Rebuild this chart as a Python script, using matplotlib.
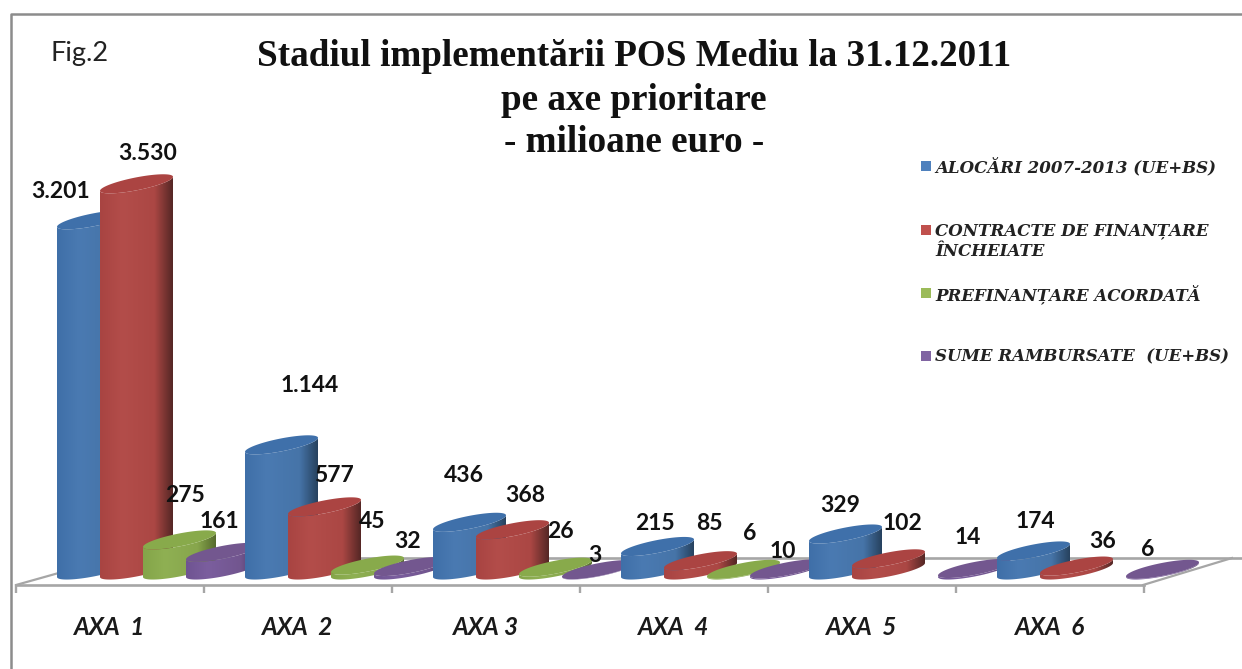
import matplotlib
matplotlib.use("Agg")
import matplotlib.pyplot as plt
from matplotlib.colors import LinearSegmentedColormap
from matplotlib.patches import Polygon, Rectangle
import numpy as np

W, H = 1242, 669

# Data
categories = ["AXA  1", "AXA  2", "AXA 3", "AXA  4", "AXA  5", "AXA  6"]
series_names = ["ALOCĂRI 2007-2013 (UE+BS)",
                "CONTRACTE DE FINANȚARE\nÎNCHEIATE",
                "PREFINANȚARE ACORDATĂ",
                "SUME RAMBURSATE  (UE+BS)"]
alocari = [3201, 1144, 436, 215, 329, 174]
contracte = [3530, 577, 368, 85, 102, 36]
prefinantare = [275, 45, 26, 6, 0, 0]
rambursate = [161, 32, 3, 10, 14, 6]
series = [alocari, contracte, prefinantare, rambursate]

# label centres in image pixels, one row per axis
label_px = [
    [(61, 191), (148, 154), (185, 496), (219, 521)],
    [(310, 385), (334, 475), (372, 522), (408, 541)],
    [(464, 475), (525, 495), (560, 532), (595, 555)],
    [(655, 524), (709, 524), (750, 533), (783, 551)],
    [(840, 506), (902, 523), None, (968, 537)],
    [(1035, 521), (1103, 541), None, (1148, 549)],
]

ramps = [["#3f6fa8", "#4a7ab2", "#4674a8", "#27425f"],
         ["#a84442", "#b34d4a", "#ab4744", "#552725"],
         ["#84a549", "#8fb053", "#87a64c", "#566b2d"],
         ["#6f5492", "#7b5e9e", "#72568f", "#46335e"]]
cap_colors = ["#3f70aa", "#ab4442", "#88aa4b", "#73578f"]
legend_colors = ["#4f81bd", "#c0504d", "#9bbb59", "#8064a2"]
gray = "#a6a6a6"

PX_X = 188.0      # pixels per axis
PX_Y = 0.1094     # pixels per million euro
BASE = 577
FLOOR = 585
TOP = 14

plt.rcParams["font.family"] = ["Lato", "DejaVu Sans"]
fig = plt.figure(figsize=(W / 100, H / 100), dpi=100)
# the axes run past the last tick so the last purple disc is not clipped
ax = fig.add_axes([16 / W, 1 - FLOOR / H, 6.4 * PX_X / W, (FLOOR - TOP) / H])
ax.set_xlim(0, 6.4)
ax.set_ylim(-(FLOOR - BASE) / PX_Y, (BASE - TOP) / PX_Y)
ax.set_autoscale_on(False)
ax.patch.set_alpha(0)

for s in ["top", "left", "right"]:
    ax.spines[s].set_visible(False)
ax.spines["bottom"].set_color(gray)
ax.spines["bottom"].set_linewidth(1.9)
ax.spines["bottom"].set_bounds(0, 6)
ax.set_yticks([])
ax.set_xticks(range(7))
ax.set_xticklabels([])
ax.set_xticks(np.arange(6) + 0.5, categories, minor=True, fontsize=17.5,
              fontweight="bold", fontstyle="italic", color="#1a1a1a")
ax.tick_params(axis="x", which="major", length=6, width=1.7, color=gray)
ax.tick_params(axis="x", which="minor", length=0, pad=22)

# floor of the 3D box
fy = lambda py: (BASE - py) / PX_Y
fx = lambda px: (px - 16) / PX_X
ax.plot([fx(16), fx(112)], [fy(FLOOR), fy(558)], color=gray, lw=1.6, clip_on=False, zorder=1)
ax.plot([fx(1143), fx(1232)], [fy(FLOOR), fy(558)], color=gray, lw=1.6, clip_on=False, zorder=1)
ax.plot([fx(112), fx(1242)], [fy(558), fy(558)], color=gray, lw=1.9, clip_on=False, zorder=1)

# cylinder geometry
start = 41 / PX_X
step = 43 / PX_X
width = 73 / PX_X
tilt = 14 / PX_Y
minor = 6.5 / PX_Y


def rim(x0, y0, t):
    # tilted ellipse, left tip sits on (x0, y0)
    u = np.cos(t)
    return x0 + width * (u + 1) / 2, y0 + tilt * (u + 1) / 2 + minor * np.sin(t)


z = 2
for i in range(len(categories)):
    for j, vals in enumerate(series):
        v = vals[i]
        if v == 0:
            continue
        x0 = i + start + j * step
        t_low = np.linspace(np.pi, 2 * np.pi, 50)
        bx, by = rim(x0, 0, t_low)
        tx, ty = rim(x0, v, t_low[::-1])
        body = Polygon(np.r_[np.c_[bx, by], np.c_[tx, ty]], closed=True, fc="none", ec="none", zorder=z)
        ax.add_patch(body)
        cmap = LinearSegmentedColormap.from_list("r", list(zip([0, 0.3, 0.75, 1], ramps[j])))
        im = ax.imshow(np.linspace(0, 1, 128)[None, :], cmap=cmap, aspect="auto",
                       extent=(x0, x0 + width, by.min(), ty.max()), zorder=z, interpolation="bilinear")
        im.set_clip_path(body)
        cx, cy = rim(x0, v, np.linspace(0, 2 * np.pi, 100))
        ax.add_patch(Polygon(np.c_[cx, cy], closed=True, fc=cap_colors[j], ec="none", zorder=z + 0.5))
        z += 1


def px_text(px, py, s, **kw):
    fig.text(px / W, 1 - py / H, s, ha=kw.pop("ha", "center"), va=kw.pop("va", "center"), **kw)


# value labels, thousands written with a dot
for i, row in enumerate(label_px):
    for j, pos in enumerate(row):
        if pos is None:
            continue
        txt = f"{series[j][i]:,}".replace(",", ".")
        px_text(pos[0], pos[1], txt, fontsize=16.5, fontweight="bold", color="#111111", zorder=50)

# titles
px_text(80, 54, "Fig.2", fontsize=19.5, color="#222222")
for py, line in zip([57, 100, 143], ["Stadiul implementării POS Mediu la 31.12.2011",
                                     "pe axe prioritare", "- milioane euro -"]):
    px_text(634, py, line, fontsize=26.7, fontweight="bold", family="Liberation Serif", color="#111111")

# legend
for name, color, py in zip(series_names, legend_colors, [166, 230, 293, 356]):
    fig.add_artist(Rectangle((921 / W, 1 - (py + 5) / H), 10 / W, 10 / H, transform=fig.transFigure,
                             fc=color, ec="none"))
    px_text(935, py - 8, name, ha="left", va="top", fontsize=12,
            fontstyle="italic", fontweight="bold", family="DejaVu Serif", color="#222222",
            linespacing=1.3)

# outer frame, runs off the right and bottom edge of the crop
fig.add_artist(plt.Line2D([10.5 / W, 10.5 / W, 1], [0, 1 - 13.5 / H, 1 - 13.5 / H],
                          transform=fig.transFigure, color="#8c8c8c", lw=1.8))

fig.savefig("out.png", dpi=100)
